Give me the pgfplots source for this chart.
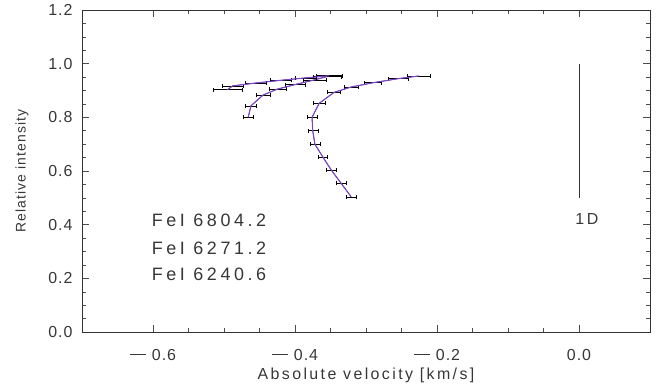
\documentclass[border=0pt]{standalone}
\usepackage{pgfplots}
\pgfplotsset{compat=1.18}
\usepackage{fontspec}
\setmainfont{Liberation Sans}
\newfontfamily\ticksfont[LetterSpace=6]{Liberation Sans}
\newfontfamily\xlabfont[LetterSpace=15]{Liberation Sans}
\newfontfamily\ylabfont[LetterSpace=8]{Liberation Sans}
\newfontfamily\annfont[LetterSpace=20]{Liberation Sans}
\newfontfamily\dfont[LetterSpace=16]{Liberation Sans}
\definecolor{pline}{RGB}{125,70,200}
\definecolor{txt}{RGB}{55,55,55}
\newcommand{\mn}{\raisebox{5.4bp}{\rule{16bp}{0.8bp}}\hspace{6bp}}
\begin{document}
\begin{tikzpicture}
\begin{axis}[
  scale only axis, width=568bp, height=322bp,
  xmin=-0.7, xmax=0.1, ymin=0, ymax=1.2,
  xtick={-0.6,-0.4,-0.2,0.0},
  xticklabels={\mn0.6,\mn0.4,\mn0.2,0.0},
  ytick={0,0.2,0.4,0.6,0.8,1.0,1.2},
  yticklabels={0.0,0.2,0.4,0.6,0.8,1.0,1.2},
  minor tick num=3,
  tick align=inside,
  major tick length=7bp, minor tick length=4bp,
  tick style={black!70, line width=0.5pt},
  axis line style={black!80, line width=0.6pt},
  ticklabel style={font=\ticksfont\fontsize{16}{18}\selectfont, text=txt},
  xticklabel style={anchor=base, yshift=-28bp},
  yticklabel style={anchor=east, xshift=-6bp},
  xlabel={Absolute velocity [km/s]},
  ylabel={Relative intensity},
  xlabel style={font=\xlabfont\fontsize{16}{18}\selectfont, text=txt, at={(rel axis cs:0.5,0)}, anchor=base, yshift=-47bp},
  ylabel style={font=\ylabfont\fontsize{14}{16}\selectfont, text=txt, at={([xshift=-60bp]rel axis cs:0,0.5)}, anchor=center},
  clip=false,
]
% curve A (black with error bars)
\addplot[black, line width=0.5pt, mark=none,
  error bars/.cd, x dir=both, x explicit, error bar style={black, line width=0.5pt}, error mark options={rotate=90, mark size=2bp, black}]
  table[x=x, y=y, x error=e] {
x y e
-0.321 0.504 0.007
-0.335 0.554 0.007
-0.349 0.604 0.007
-0.361 0.653 0.007
-0.372 0.700 0.007
-0.375 0.750 0.007
-0.376 0.800 0.007
-0.366 0.852 0.008
-0.345 0.893 0.009
-0.321 0.913 0.010
-0.290 0.929 0.012
-0.255 0.944 0.014
-0.226 0.954 0.016
};
\addplot[pline, line width=1.1pt, mark=none] table {
-0.321 0.504
-0.335 0.554
-0.349 0.604
-0.361 0.653
-0.372 0.700
-0.375 0.750
-0.376 0.800
-0.366 0.852
-0.345 0.893
-0.321 0.913
-0.290 0.929
-0.255 0.944
-0.226 0.954
};
% curve B
\addplot[black, line width=0.5pt, mark=none,
  error bars/.cd, x dir=both, x explicit, error bar style={black, line width=0.5pt}, error mark options={rotate=90, mark size=2bp, black}]
  table[x=x, y=y, x error=e] {
x y e
-0.466 0.800 0.007
-0.462 0.843 0.008
-0.445 0.883 0.010
-0.425 0.905 0.012
-0.400 0.922 0.014
-0.372 0.940 0.016
-0.355 0.952 0.020
};
\addplot[pline, line width=1.1pt, mark=none] table {
-0.466 0.800
-0.462 0.843
-0.445 0.883
-0.425 0.905
-0.400 0.922
-0.372 0.940
-0.355 0.952
};
% curve C
\addplot[black, line width=0.5pt, mark=none,
  error bars/.cd, x dir=both, x explicit, error bar style={black, line width=0.5pt}, error mark options={rotate=90, mark size=2bp, black}]
  table[x=x, y=y, x error=e] {
x y e
-0.495 0.903 0.020
-0.488 0.917 0.015
-0.455 0.928 0.015
-0.420 0.938 0.015
-0.385 0.947 0.015
-0.352 0.955 0.018
};
\addplot[pline, line width=1.1pt, mark=none] table {
-0.495 0.903
-0.488 0.917
-0.455 0.928
-0.420 0.938
-0.385 0.947
-0.352 0.955
};
% scale bar
\addplot[black!80, line width=0.6pt, mark=none] coordinates {(0,0.5) (0,1.0)};
\node[text=txt, font=\dfont\fontsize{16}{18}\selectfont] at (axis cs:0.011,0.421) {1D};
\node[text=txt, font=\annfont\fontsize{18}{20}\selectfont, anchor=west, inner sep=0pt] at (axis cs:-0.602,0.417) {FeI 6804.2};
\node[text=txt, font=\annfont\fontsize{18}{20}\selectfont, anchor=west, inner sep=0pt] at (axis cs:-0.602,0.313) {FeI 6271.2};
\node[text=txt, font=\annfont\fontsize{18}{20}\selectfont, anchor=west, inner sep=0pt] at (axis cs:-0.602,0.216) {FeI 6240.6};
\end{axis}
\pgfresetboundingbox
\path[use as bounding box] (-82bp,-52bp) rectangle (575bp,332bp);
\end{tikzpicture}
\end{document}
